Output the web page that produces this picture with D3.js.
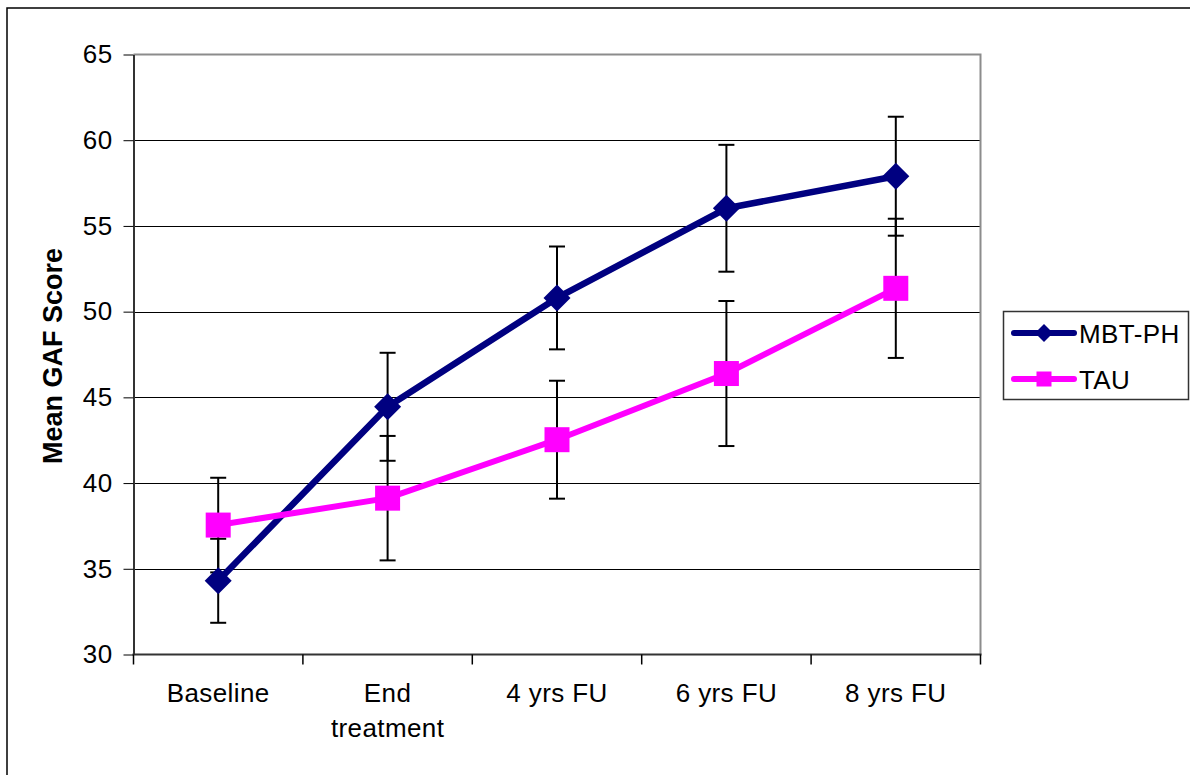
<!DOCTYPE html>
<html>
<head>
<meta charset="utf-8">
<script src="https://cdn.jsdelivr.net/npm/d3@7"></script>
<style>
  html, body { margin: 0; padding: 0; background: #fff; }
  svg { display: block; }
  text { font-family: "Liberation Sans", Arial, sans-serif; fill: #000; }
</style>
</head>
<body>
<svg id="chart" width="1190" height="775"></svg>
<script>
// ---- data ----
const categories = ["Baseline", "End treatment", "4 yrs FU", "6 yrs FU", "8 yrs FU"];
const mbtMean = [34.3, 44.45, 50.8, 56.03, 57.9];
const mbtErr  = [2.45, 3.15, 3.0, 3.7, 3.47];
const tauMean = [37.55, 39.12, 42.53, 46.39, 51.36];
const tauErr  = [2.76, 3.63, 3.44, 4.23, 4.06];
const yTicks = [30, 35, 40, 45, 50, 55, 60, 65];
const seriesNames = ["MBT-PH", "TAU"];
const yTitle = "Mean GAF Score";

(function () {
const svg = d3.select("#chart");
const W = 1190, H = 775;
const pL = 133.5, pR = 980.5, pT = 54.5, pB = 654.5;
const FS = "26px", LS = "0.4px";

const x = d3.scaleBand().domain(categories).range([pL, pR]);
const y = d3.scaleLinear().domain([30, 65]).range([pB, pT]);

// outer frame
svg.append("path")
  .attr("d", `M7,${H + 5} L7,8 L${W + 5},8`)
  .attr("fill", "none").attr("stroke", "#000").attr("stroke-width", 1.5);

// gridlines
svg.append("g").selectAll("line").data(yTicks.filter(t => t > 30 && t < 65)).join("line")
  .attr("x1", pL).attr("x2", pR)
  .attr("y1", d => Math.round(y(d)) + 0.5).attr("y2", d => Math.round(y(d)) + 0.5)
  .attr("stroke", "#000").attr("stroke-width", 1);

// plot border top & right (gray)
svg.append("path")
  .attr("d", `M${pL},${pT} L${pR},${pT} L${pR},${pB}`)
  .attr("fill", "none").attr("stroke", "#8c8c8c").attr("stroke-width", 2);

// y axis
const yAxis = d3.axisLeft(y).tickValues(yTicks).tickSize(10).tickPadding(12).tickSizeOuter(0);
const gy = svg.append("g").attr("transform", `translate(${pL},0)`).call(yAxis);
gy.select(".domain").attr("stroke", "#333").attr("stroke-width", 2);
gy.selectAll(".tick line").attr("stroke", "#000").attr("stroke-width", 1);
gy.selectAll(".tick text")
  .style("font-family", "Liberation Sans, Arial, sans-serif")
  .style("font-size", FS).style("letter-spacing", LS)
  .attr("fill", "#000").attr("x", -21);

// x axis (ticks at category boundaries)
svg.append("line").attr("x1", pL - 1).attr("x2", pR + 1)
  .attr("y1", pB).attr("y2", pB).attr("stroke", "#333").attr("stroke-width", 2);
const bounds = categories.map(c => x(c)).concat([x(categories[categories.length - 1]) + x.bandwidth()]);
svg.append("g").selectAll("line").data(bounds).join("line")
  .attr("x1", d => d).attr("x2", d => d)
  .attr("y1", pB).attr("y2", pB + 10)
  .attr("stroke", "#000").attr("stroke-width", 1.5);

// x labels
const xl = svg.append("g").selectAll("text").data(categories).join("text")
  .attr("text-anchor", "middle")
  .style("font-size", FS).style("letter-spacing", LS)
  .attr("transform", d => `translate(${x(d) + x.bandwidth() / 2},702)`);
xl.each(function (d) {
  const words = d === "End treatment" ? ["End", "treatment"] : [d];
  const t = d3.select(this);
  words.forEach((w, i) => t.append("tspan").attr("x", 0).attr("y", i * 35).text(w));
});

// y title
svg.append("text")
  .attr("transform", `translate(62,356) rotate(-90)`)
  .attr("text-anchor", "middle")
  .style("font-size", "27px").style("font-weight", "bold")
  .text(yTitle);

const cx = c => x(c) + x.bandwidth() / 2;

// error bars
function errBars(means, errs) {
  const g = svg.append("g");
  categories.forEach((c, i) => {
    const hi = y(means[i] + errs[i]), lo = y(means[i] - errs[i]);
    g.append("line").attr("x1", cx(c)).attr("x2", cx(c)).attr("y1", hi).attr("y2", lo)
      .attr("stroke", "#000").attr("stroke-width", 2);
    [hi, lo].forEach(yy => g.append("line")
      .attr("x1", cx(c) - 8).attr("x2", cx(c) + 8).attr("y1", yy).attr("y2", yy)
      .attr("stroke", "#000").attr("stroke-width", 2));
  });
}
errBars(mbtMean, mbtErr);
errBars(tauMean, tauErr);

// lines
const line = d3.line().x((d, i) => cx(categories[i])).y(d => y(d));
svg.append("path").datum(mbtMean).attr("d", line)
  .attr("fill", "none").attr("stroke", "#000080").attr("stroke-width", 6.5).attr("stroke-linejoin", "round");
svg.append("path").datum(tauMean).attr("d", line)
  .attr("fill", "none").attr("stroke", "#ff00ff").attr("stroke-width", 6).attr("stroke-linejoin", "round");

// markers
function diamond(g, px, py, r) {
  g.append("path").attr("d", `M${px},${py - r} L${px + r},${py} L${px},${py + r} L${px - r},${py} Z`)
    .attr("fill", "#000080");
}
function square(g, px, py, s) {
  g.append("rect").attr("x", px - s / 2).attr("y", py - s / 2).attr("width", s).attr("height", s)
    .attr("fill", "#ff00ff");
}
const mk = svg.append("g");
categories.forEach((c, i) => diamond(mk, cx(c), y(mbtMean[i]), 13.5));
categories.forEach((c, i) => square(mk, cx(c), y(tauMean[i]), 25));

// legend
const lg = svg.append("g");
lg.append("rect").attr("x", 1003.5).attr("y", 311.5).attr("width", 185).attr("height", 88)
  .attr("fill", "#fff").attr("stroke", "#333").attr("stroke-width", 1.5);
const legY = [333, 379];
const legCol = ["#000080", "#ff00ff"];
seriesNames.forEach((n, i) => {
  lg.append("line").attr("x1", 1014).attr("x2", 1074).attr("y1", legY[i]).attr("y2", legY[i])
    .attr("stroke", legCol[i]).attr("stroke-width", 6).attr("stroke-linecap", "round");
  if (i === 0) diamond(lg, 1044, legY[i], 9); else square(lg, 1044, legY[i], 15);
  lg.append("text").attr("x", 1079).attr("y", legY[i] + 9.5)
    .style("font-size", FS).style("letter-spacing", LS).text(n);
});
})();
</script>
</body>
</html>
